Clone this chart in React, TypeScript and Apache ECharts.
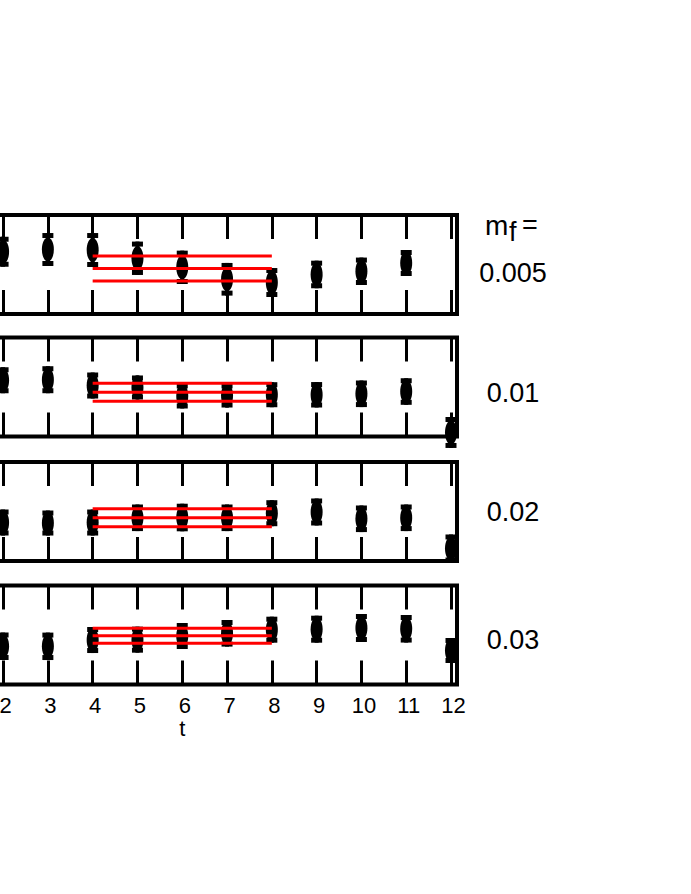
import React, { useEffect, useRef } from "react";
import * as echarts from "echarts";

// time slices shown in every panel
const tValues = [2, 3, 4, 5, 6, 7, 8, 9, 10, 11, 12];

// quark-mass labels (right-hand side)
const massLabels = ["0.005", "0.01", "0.02", "0.03"];

// effective-mass points (arbitrary units of the hidden left axis) and errors
const mean005 = [19.06, 19.37, 19.3, 18.13, 16.85, 15.16, 14.7, 15.84, 16.29, 17.46, null];
const err005 = [2.12, 2.33, 2.4, 2.36, 2.36, 2.31, 2.05, 1.95, 1.94, 1.84, null];

const mean01 = [14.61, 14.68, 13.86, 13.58, 12.38, 12.45, 12.56, 12.55, 12.69, 13.01, 7.22];
const err01 = [1.84, 1.91, 1.84, 1.7, 1.77, 1.7, 1.77, 1.8, 1.88, 1.88, 2.19];

const mean02 = [10.99, 10.92, 10.99, 11.66, 11.7, 11.66, 12.31, 12.48, 11.52, 11.66, 7.32];
const err02 = [1.84, 1.77, 1.84, 1.88, 1.95, 1.88, 1.84, 1.91, 1.88, 1.88, 1.98];

const mean03 = [10.7, 10.7, 11.59, 11.64, 12.16, 12.54, 13.05, 13.12, 13.29, 13.18, 10.11];
const err03 = [1.94, 1.94, 1.84, 1.84, 1.84, 1.88, 1.84, 1.91, 1.98, 1.95, 1.77];

// plateau fits (red bands) over the fit window
const fitWindow = [4, 8];
const fitMean = [16.68, 12.91, 11.66, 12.2];
const fitErr = [1.77, 1.27, 1.27, 1.06];

// y ranges of the four panels
const yMin = [10.25, 6.65, 5.55, 5.3];
const yMax = [24.25, 20.65, 19.55, 19.3];

// x range (only t >= 2 is inside the visible window)
const tMin = -0.134;
const tMax = 12.134;
const firstShownT = 2;

const panelMeans = [mean005, mean01, mean02, mean03];
const panelErrs = [err005, err01, err02, err03];

const FONT = "'Liberation Sans', Arial, Helvetica, sans-serif";
const panelTops = [215, 337.5, 462, 585.5];
const panelHeight = 99;
const labelYs = [272.5, 393, 511.5, 640];

const renderErrorPoint = (_params: any, api: any) => {
  const t = api.value(0);
  const m = api.value(1);
  const e = api.value(2);
  const c = api.coord([t, m]);
  const hi = api.coord([t, m + e]);
  const lo = api.coord([t, m - e]);
  const capW = 11;
  const capH = 5;
  return {
    type: "group",
    children: [
      { type: "line", shape: { x1: c[0], y1: hi[1], x2: c[0], y2: lo[1] }, style: { stroke: "#000", lineWidth: 4 } },
      { type: "rect", shape: { x: c[0] - capW / 2, y: hi[1], width: capW, height: capH }, style: { fill: "#000" } },
      { type: "rect", shape: { x: c[0] - capW / 2, y: lo[1] - capH, width: capW, height: capH }, style: { fill: "#000" } },
      { type: "ellipse", shape: { cx: c[0], cy: c[1], rx: 6, ry: 12 }, style: { fill: "#000" } },
    ],
  };
};

const intLabel = (v: number) =>
  Math.abs(v - Math.round(v)) < 1e-6 && Math.round(v) >= firstShownT ? String(Math.round(v)) : "";

export default function App() {
  const ref = useRef<HTMLDivElement>(null);
  useEffect(() => {
    if (!ref.current) return;
    const chart = echarts.init(ref.current, null, { renderer: "svg" });

    const grids = panelTops.map((top) => ({
      left: -92.5,
      width: 549.5,
      top,
      height: panelHeight,
      show: true,
      borderColor: "#000",
      borderWidth: 4,
      backgroundColor: "transparent",
      containLabel: false,
      outerBoundsMode: "none",
    }));

    const xAxes: any[] = [];
    const yAxes: any[] = [];
    const series: any[] = [];

    panelTops.forEach((_, i) => {
      const last = i === panelTops.length - 1;
      const xBase = {
        type: "value",
        gridIndex: i,
        min: tMin,
        max: tMax,
        minInterval: 1,
        maxInterval: 1,
        splitNumber: 12,
        axisLine: { show: false },
        axisTick: { show: true, inside: true, length: 24, lineStyle: { color: "#000", width: 3 } },
        splitLine: { show: false },
      };
      xAxes.push({
        ...xBase,
        position: "bottom",
        axisLabel: {
          show: last,
          formatter: intLabel,
          fontSize: 22,
          color: "#000",
          margin: 10,
          padding: [0, 0, 0, 5],
          fontFamily: FONT,
          showMinLabel: false,
          showMaxLabel: false,
        },
        name: last ? "t" : "",
        nameLocation: "middle",
        nameGap: 31,
        nameTextStyle: { fontSize: 22, color: "#000", fontFamily: FONT },
      });
      xAxes.push({ ...xBase, position: "top", axisLabel: { show: false } });

      const yBase = {
        type: "value",
        gridIndex: i,
        position: "right",
        min: yMin[i],
        max: yMax[i],
        axisLine: { show: false },
        axisLabel: { show: false },
        splitLine: { show: false },
      };
      yAxes.push({
        ...yBase,
        minInterval: 7,
        maxInterval: 7,
        splitNumber: 2,
        axisTick: { show: true, inside: true, length: 11, lineStyle: { color: "#000", width: 3 } },
      });
      yAxes.push({
        ...yBase,
        minInterval: 1,
        maxInterval: 1,
        splitNumber: 14,
        axisTick: { show: true, inside: true, length: 6, lineStyle: { color: "#000", width: 2.5 } },
      });

      const pts = tValues
        .map((t, k) => [t, panelMeans[i][k], panelErrs[i][k]])
        .filter((d) => d[1] != null);
      series.push({
        type: "custom",
        xAxisIndex: 2 * i,
        yAxisIndex: 2 * i,
        data: pts,
        dimensions: ["t", "m", "e"],
        encode: { x: 0, y: 1 },
        renderItem: renderErrorPoint,
        clip: false,
        z: 2,
      });
      [fitMean[i] + fitErr[i], fitMean[i], fitMean[i] - fitErr[i]].forEach((v) => {
        series.push({
          type: "line",
          xAxisIndex: 2 * i,
          yAxisIndex: 2 * i,
          data: fitWindow.map((t) => [t, v]),
          symbol: "none",
          lineStyle: { color: "#ff0000", width: 3 },
          z: 3,
        });
      });
    });

    const graphics: any[] = [
      { type: "text", left: 485, top: 211, style: { text: "m", fontSize: 28, fontFamily: FONT, fill: "#000" } },
      { type: "text", left: 509, top: 218, style: { text: "f", fontSize: 27, fontFamily: FONT, fill: "#000" } },
      { type: "text", left: 522, top: 211, style: { text: "=", fontSize: 27, fontFamily: FONT, fill: "#000" } },
    ];
    massLabels.forEach((lab, i) => {
      graphics.push({
        type: "text",
        x: 513,
        y: labelYs[i],
        style: { text: lab, fontSize: 27, fontFamily: FONT, fill: "#000", align: "center", verticalAlign: "middle" },
      });
    });

    chart.setOption({
      animation: false,
      backgroundColor: "#fff",
      grid: grids,
      xAxis: xAxes,
      yAxis: yAxes,
      series,
      graphic: graphics,
    });
    return () => chart.dispose();
  }, []);

  return (
    <div
      ref={ref}
      style={{ position: "fixed", left: 0, top: 0, width: 691, height: 894, background: "#fff" }}
    />
  );
}
